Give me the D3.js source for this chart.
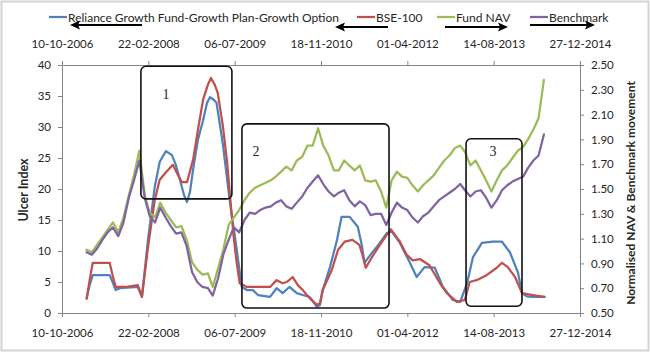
<!DOCTYPE html>
<html><head><meta charset="utf-8">
<script src="https://cdn.jsdelivr.net/npm/d3@7"></script>
<style>
body{margin:0;background:#fff}
svg{display:block}
text{font-family:Lato,"Noto Sans",sans-serif;fill:#262626}
</style>
</head><body><svg id="c" width="650" height="352"></svg>
<script>
// ---------------- DATA ----------------
const dateTickLabels = ["10-10-2006","22-02-2008","06-07-2009","18-11-2010","01-04-2012","14-08-2013","27-12-2014"];
const ulcerTicks = [0,5,10,15,20,25,30,35,40];
const navTicks = [0.5,0.7,0.9,1.1,1.3,1.5,1.7,1.9,2.1,2.3,2.5];
const seriesNames = ["Reliance Growth Fund-Growth Plan-Growth Option","BSE-100","Fund NAV","Benchmark"];

const months = ["2007-03","2007-04","2007-05","2007-06","2007-07","2007-08","2007-09","2007-10","2007-11","2007-12",
"2008-01","2008-02","2008-03","2008-04","2008-05","2008-06","2008-07","2008-08","2008-09","2008-10",
"2008-11","2008-12","2009-01","2009-02","2009-03","2009-04","2009-05","2009-06","2009-07","2009-08",
"2009-09","2009-10","2009-11","2009-12","2010-01","2010-02","2010-03","2010-04","2010-05","2010-06",
"2010-07","2010-08","2010-09","2010-10","2010-11","2010-12","2011-01","2011-02","2011-03","2011-04",
"2011-05","2011-06","2011-07","2011-08","2011-09","2011-10","2011-11","2011-12","2012-01","2012-02",
"2012-03","2012-04","2012-05","2012-06","2012-07","2012-08","2012-09","2012-10","2012-11","2012-12",
"2013-01","2013-02","2013-03","2013-04","2013-05","2013-06","2013-07","2013-08","2013-09","2013-10",
"2013-11","2013-12","2014-01","2014-02","2014-03","2014-04","2014-05","2014-06"];

const fundNAV = [1.01,0.99,1.05,1.11,1.17,1.23,1.15,1.27,1.45,1.61,
1.81,1.45,1.31,1.27,1.39,1.31,1.25,1.19,1.20,1.09,
0.91,0.85,0.81,0.82,0.71,0.86,1.01,1.21,1.27,1.33,
1.41,1.47,1.51,1.53,1.55,1.57,1.60,1.64,1.68,1.65,
1.73,1.76,1.85,1.85,1.99,1.85,1.77,1.65,1.65,1.73,
1.69,1.65,1.69,1.57,1.56,1.57,1.48,1.35,1.57,1.64,
1.60,1.59,1.53,1.48,1.53,1.57,1.61,1.67,1.73,1.77,
1.83,1.85,1.80,1.69,1.73,1.65,1.57,1.48,1.57,1.65,
1.69,1.75,1.81,1.84,1.90,1.98,2.07,2.38];

const benchmark = [0.99,0.97,1.02,1.09,1.15,1.19,1.12,1.23,1.43,1.57,
1.73,1.43,1.28,1.23,1.35,1.27,1.20,1.14,1.15,1.04,
0.83,0.75,0.71,0.70,0.64,0.78,0.97,1.09,1.19,1.15,
1.25,1.31,1.30,1.33,1.35,1.36,1.39,1.41,1.36,1.34,
1.39,1.44,1.51,1.56,1.61,1.54,1.48,1.44,1.47,1.49,
1.41,1.36,1.40,1.37,1.29,1.30,1.30,1.21,1.31,1.39,
1.35,1.33,1.27,1.23,1.28,1.31,1.36,1.41,1.44,1.47,
1.50,1.54,1.49,1.44,1.48,1.49,1.43,1.35,1.41,1.49,
1.53,1.56,1.58,1.60,1.67,1.73,1.77,1.94];

const fundUlcerDates = ["2007-03-02","2007-03-19","2007-04-06","2007-07-13","2007-07-30","2007-08-17","2007-09-10","2007-12-23","2008-01-16","2008-02-20",
"2008-03-30","2008-04-28","2008-06-03","2008-07-07","2008-07-30","2008-08-23","2008-09-16","2008-10-03","2008-10-20","2008-11-07",
"2008-12-05","2009-01-04","2009-01-27","2009-02-13","2009-03-07","2009-03-23","2009-04-28","2009-06-07","2009-07-16","2009-08-16",
"2009-09-15","2009-10-19","2009-11-18","2010-01-27","2010-03-06","2010-04-10","2010-05-19","2010-07-01","2010-08-04","2010-09-13",
"2010-10-25","2010-11-12","2010-11-28","2011-01-09","2011-02-19","2011-03-17","2011-05-03","2011-06-19","2011-07-12","2011-07-28",
"2011-09-09","2011-10-25","2011-12-04","2012-01-03","2012-02-18","2012-04-16","2012-05-25","2012-07-10","2012-09-07","2012-10-24",
"2012-12-21","2013-02-01","2013-03-13","2013-04-16","2013-06-07","2013-08-10","2013-10-01","2013-11-16","2014-01-02","2014-01-25",
"2014-02-22","2014-03-28","2014-06-04"];
const fundUlcer = [2.4,4.5,6.1,6.1,5.0,3.7,4.0,4.2,2.6,11.8,
20.3,24.4,26.1,25.5,23.9,21.5,19.0,17.9,19.5,23.1,
27.9,31.1,33.9,34.8,34.4,33.9,27.4,18.2,10.6,4.2,
3.7,3.7,2.9,2.6,4.0,3.2,4.2,3.2,2.9,2.6,
1.0,1.3,3.7,7.4,11.8,15.5,15.5,13.9,11.0,8.1,
9.7,11.3,12.9,13.1,11.3,8.1,5.8,7.4,7.3,4.2,
2.1,1.8,4.8,9.0,11.3,11.5,11.5,9.8,6.5,3.2,
2.7,2.6,2.6];

const bseUlcerDates = ["2007-03-02","2007-03-19","2007-04-06","2007-07-13","2007-07-30","2007-08-17","2007-10-21","2007-12-23","2008-01-16","2008-02-20",
"2008-03-30","2008-04-28","2008-06-03","2008-07-13","2008-08-11","2008-09-04","2008-10-03","2008-11-07","2008-12-05","2009-01-04",
"2009-02-02","2009-02-19","2009-03-13","2009-03-30","2009-04-28","2009-05-22","2009-06-28","2009-07-16","2009-08-04","2009-09-15",
"2010-01-27","2010-03-06","2010-04-10","2010-05-04","2010-06-07","2010-07-07","2010-08-04","2010-09-13","2010-10-25","2010-11-12",
"2010-11-28","2011-01-19","2011-02-25","2011-04-04","2011-05-19","2011-06-28","2011-07-16","2011-08-04","2011-09-09","2011-10-25",
"2011-12-04","2011-12-28","2012-02-18","2012-03-28","2012-05-02","2012-06-13","2012-08-07","2012-10-07","2012-11-16","2013-01-13",
"2013-02-28","2013-03-28","2013-05-07","2013-07-04","2013-09-01","2013-10-01","2013-11-04","2013-12-16","2014-01-25","2014-03-28",
"2014-06-04"];
const bseUlcer = [2.3,5.3,8.1,8.1,6.1,4.2,4.2,4.5,2.6,10.6,
18.2,21.5,22.7,23.9,22.3,21.1,21.1,24.7,29.5,34.4,
36.9,37.9,36.8,35.5,30.3,24.7,12.9,8.5,4.8,4.2,
4.2,5.3,4.8,5.0,5.8,4.5,3.7,2.4,1.3,1.6,
3.7,6.9,10.2,11.5,11.8,11.0,9.4,7.3,9.0,11.0,
12.6,13.5,11.5,9.4,8.5,8.7,7.7,4.8,3.2,1.8,
2.1,5.0,5.3,6.1,7.3,8.1,7.4,5.8,3.2,2.9,
2.6];

// annotation boxes in data units (dates, ulcer index)
const boxLabels = ["1","2","3"];
const boxStart = ["2008-01-10","2009-08-17","2013-03-07"];
const boxEnd   = ["2009-06-20","2011-12-17","2014-01-25"];
const boxTop   = [39.8,30.5,28.1];
const boxBottom= [18.4,0.8,1.1];
const labelDate= ["2008-06-03","2009-11-07","2013-08-10"];
const labelVal = [35.2,26.1,26.0];

// ---------------- CHART ----------------
const colors = ["#4F81BD","#C0504D","#9BBB59","#8064A2"];
const svg = d3.select("#c");
const W=650,H=352;
const L=62,R=580,T=65,B=313;
const pDate = d3.utcParse("%d-%m-%Y"), pMonth = d3.utcParse("%Y-%m"), pDay = d3.utcParse("%Y-%m-%d");
const fmt = d3.utcFormat("%d-%m-%Y");
const tickDates = dateTickLabels.map(pDate);

const x = d3.scaleUtc().domain([tickDates[0], tickDates[tickDates.length-1]]).range([L,R]);
const yL = d3.scaleLinear().domain([0,40]).range([B,T]);
const yR = d3.scaleLinear().domain([0.5,2.5]).range([B,T]);

// outer frame
svg.append("rect").attr("x",1.5).attr("y",1.5).attr("width",W-3).attr("height",H-3)
  .attr("fill","#fff").attr("stroke","#d4d4d4").attr("stroke-width",2);

const axisColor="#868686";
function styleAxis(g){
  g.selectAll(".domain").attr("stroke",axisColor);
  g.selectAll(".tick line").attr("stroke",axisColor);
  g.selectAll(".tick text").attr("fill","#262626").style("font-size","11.5px").style("font-family","Lato");
}
svg.append("g").attr("transform",`translate(0,${B})`)
  .call(d3.axisBottom(x).tickValues(tickDates).tickFormat(fmt).tickSize(4).tickSizeOuter(0).tickPadding(12)).call(styleAxis);
svg.append("g").attr("transform",`translate(0,${T})`)
  .call(d3.axisTop(x).tickValues(tickDates).tickFormat(fmt).tickSize(4).tickSizeOuter(0).tickPadding(13)).call(styleAxis);
svg.append("g").attr("transform",`translate(${L},0)`)
  .call(d3.axisLeft(yL).tickValues(ulcerTicks).tickFormat(d3.format("d")).tickSize(4).tickSizeOuter(0).tickPadding(7)).call(styleAxis);
svg.append("g").attr("transform",`translate(${R},0)`)
  .call(d3.axisRight(yR).tickValues(navTicks).tickFormat(d3.format(".2f")).tickSize(4).tickSizeOuter(0).tickPadding(7)).call(styleAxis);

// axis titles
svg.append("text").attr("transform","translate(23,190) rotate(-90)").attr("text-anchor","middle")
  .attr("dominant-baseline","central").style("font-weight","bold").style("font-size","12.5px").text("Ulcer Index");
svg.append("text").attr("transform","translate(630,193) rotate(-90)").attr("text-anchor","middle")
  .attr("dominant-baseline","central").style("font-weight","bold").style("font-size","12px").text("Normalised NAV & Benchmark movement");

// lines
const fundData = fundUlcerDates.map((d,i)=>({d:pDay(d),v:fundUlcer[i]}));
const bseData = bseUlcerDates.map((d,i)=>({d:pDay(d),v:bseUlcer[i]}));
const navData = months.map((d,i)=>({d:pMonth(d),v:fundNAV[i]}));
const benchData = months.map((d,i)=>({d:pMonth(d),v:benchmark[i]}));
const lineL = d3.line().x(p=>x(p.d)).y(p=>yL(p.v));
const lineR = d3.line().x(p=>x(p.d)).y(p=>yR(p.v));
[[fundData,lineL,0],[bseData,lineL,1],[navData,lineR,2],[benchData,lineR,3]].forEach(([data,ln,i])=>{
  svg.append("path").datum(data).attr("d",ln).attr("fill","none").attr("stroke",colors[i])
    .attr("stroke-width",2.25).attr("stroke-linejoin","round").attr("stroke-linecap","round");
});

// boxes
boxLabels.forEach((lab,i)=>{
  const x0=x(pDay(boxStart[i])), x1=x(pDay(boxEnd[i]));
  const y0=yL(boxTop[i]), y1=yL(boxBottom[i]);
  svg.append("rect").attr("x",x0).attr("y",y0).attr("width",x1-x0).attr("height",y1-y0)
    .attr("rx",5).attr("fill","none").attr("stroke","#111").attr("stroke-width",1.6);
  svg.append("text").attr("x",x(pDay(labelDate[i]))).attr("y",yL(labelVal[i]))
    .attr("text-anchor","middle").attr("dominant-baseline","central")
    .style("font-family","'Liberation Serif',serif").style("font-size","14px").text(lab);
});

// legend
const legX=[49,357,437,530];
seriesNames.forEach((n,i)=>{
  svg.append("line").attr("x1",legX[i]).attr("x2",legX[i]+18).attr("y1",17).attr("y2",17)
    .attr("stroke",colors[i]).attr("stroke-width",2.25);
  svg.append("text").attr("x",legX[i]+19).attr("y",17).attr("dominant-baseline","central")
    .style("font-size","12px").text(n);
});

// arrows (annotation, in margin)
const arrows=[[142,25,70,25],[388,27,335,27],[445,27,508,27],[530,25,595,25]];
arrows.forEach(([x1,y1,x2,y2])=>{
  const dir=Math.sign(x2-x1);
  svg.append("line").attr("x1",x1).attr("y1",y1).attr("x2",x2-dir*6).attr("y2",y2)
    .attr("stroke","#000").attr("stroke-width",2.2);
  svg.append("path").attr("d",`M${x2},${y2} L${x2-dir*10},${y2-4.5} L${x2-dir*8},${y2} L${x2-dir*10},${y2+4.5} Z`)
    .attr("fill","#000");
});
</script>
</body></html>
